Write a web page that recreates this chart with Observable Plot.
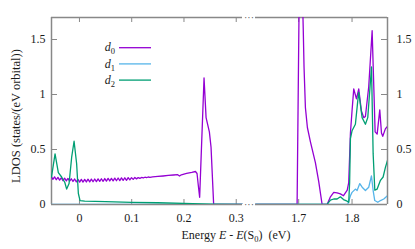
<!DOCTYPE html>
<html><head><meta charset="utf-8">
<script src="https://cdn.jsdelivr.net/npm/d3@7"></script>
<script src="https://cdn.jsdelivr.net/npm/@observablehq/plot@0.6"></script>
<style>html,body{margin:0;padding:0;background:#fff;} svg{display:block} svg text, svg tspan{font-family:"Liberation Serif", "Times New Roman", serif !important;}</style>
</head><body><div id="chart"></div>
<script>
const series = ["d0", "d1", "d2"];
const seriesColors = ["#9400d3", "#56b4e9", "#009e73"];
const xTicks = [0, 0.1, 0.2, 0.3, 1.7, 1.8];
const yTicks = [0, 0.5, 1, 1.5];
const panelLeft = [-0.0535, 0.312];
const panelRight = [1.619, 1.8665];
const yMax = 1.7;

const d0Left = [
  [-0.0540,0.255],[-0.0508,0.229],[-0.0476,0.251],[-0.0444,0.225],[-0.0412,0.247],[-0.0380,0.221],
  [-0.0348,0.243],[-0.0316,0.217],[-0.0284,0.239],[-0.0252,0.214],[-0.0220,0.237],[-0.0188,0.212],
  [-0.0156,0.234],[-0.0124,0.209],[-0.0092,0.232],[-0.0060,0.206],[-0.0028,0.228],[0.0004,0.203],
  [0.0036,0.228],[0.0068,0.204],[0.0100,0.229],[0.0132,0.205],[0.0164,0.230],[0.0196,0.206],
  [0.0228,0.231],[0.0260,0.207],[0.0292,0.232],[0.0324,0.208],[0.0356,0.233],[0.0388,0.210],
  [0.0420,0.234],[0.0452,0.211],[0.0484,0.236],[0.0516,0.212],[0.0548,0.237],[0.0580,0.214],
  [0.0612,0.238],[0.0644,0.215],[0.0676,0.240],[0.0708,0.216],[0.0740,0.241],[0.0772,0.217],
  [0.0804,0.242],[0.0836,0.219],[0.0868,0.243],[0.0900,0.220],[0.0932,0.244],[0.0964,0.224],
  [0.0996,0.244],[0.1028,0.228],[0.1060,0.245],[0.1092,0.233],[0.1124,0.245],[0.1156,0.237],
  [0.1188,0.246],[0.1220,0.241],[0.1252,0.248],[0.1284,0.244],[0.1316,0.250],[0.1348,0.247],
  [0.14,0.251],[0.15,0.255],[0.16,0.259],[0.17,0.264],[0.18,0.268],[0.188,0.271],[0.1915,0.259],
  [0.195,0.270],[0.205,0.282],[0.215,0.292],[0.222,0.300],[0.225,0.282],[0.2275,0.17],[0.230,0.066],
  [0.2384,1.15],[0.2423,0.79],[0.2486,0.66],[0.2518,0.52],[0.2568,0],[0.312,0]
];
const d0Right = [
  [1.619,0],[1.697,0],[1.7005,1.7],[1.7045,2.4],[1.7085,1.6],[1.7100,1.25],[1.7126,0.88],
  [1.7163,0.70],[1.722,0.57],[1.7313,0.38],[1.7375,0.21],[1.7439,0],[1.7533,0],[1.7595,0.07],
  [1.7657,0.11],[1.772,0.105],[1.7782,0.097],[1.784,0.08],[1.791,0.13],[1.7938,0.2],[1.797,0.65],
  [1.8,0.85],[1.8032,1.05],[1.8083,0.96],[1.8126,1.05],[1.8176,0.85],[1.822,0.79],[1.8251,0.80],
  [1.8313,1.07],[1.8377,1.58],[1.8433,0.66],[1.8471,0.64],[1.852,0.86],[1.8552,0.65],[1.8576,0.62],
  [1.8627,0.69],[1.8665,0.71]
];
const d1Left = [[-0.0535,0],[0.312,0]];
const d1Right = [
  [1.619,0],[1.792,0],[1.797,0.08],[1.8,0.11],[1.8063,0.14],[1.8095,0.127],[1.8145,0.19],
  [1.819,0.157],[1.8251,0.127],[1.8313,0.157],[1.8364,0.26],[1.8396,0.127],[1.8426,0.036],
  [1.8483,0.02],[1.8533,0.036],[1.8595,0.05],[1.8665,0.08]
];
const d2Left = [
  [-0.0535,0.25],[-0.0467,0.46],[-0.0404,0.29],[-0.0341,0.25],[-0.028,0.20],[-0.0245,0.14],
  [-0.0199,0.19],[-0.0149,0.43],[-0.0103,0.575],[-0.0054,0.37],[-0.0021,0.10],[0.0011,0.036],
  [0.01,0.03],[0.05,0.026],[0.1,0.02],[0.15,0.016],[0.2,0.01],[0.25,0.003],[0.312,0]
];
const d2Right = [
  [1.619,0],[1.753,0],[1.7595,0.04],[1.7657,0.05],[1.772,0.05],[1.7782,0.07],[1.784,0.045],
  [1.7908,0.03],[1.7938,0.02],[1.7955,0.2],[1.797,0.6],[1.8,0.67],[1.8063,0.73],[1.8107,0.94],
  [1.8126,1.02],[1.8189,0.79],[1.8251,0.73],[1.8295,0.79],[1.8365,1.25],[1.8396,0.46],
  [1.8427,0.13],[1.8471,0.14],[1.8533,0.22],[1.8583,0.25],[1.8627,0.34],[1.8665,0.40]
];

const sources = [
  ["d0", "L", d0Left], ["d0", "R", d0Right],
  ["d1", "L", d1Left], ["d1", "R", d1Right],
  ["d2", "L", d2Left], ["d2", "R", d2Right]
];
const rows = [];
for (const [s, p, pts] of sources) for (const [E, v] of pts) rows.push({E, v, s, key: s + p});

const W = 415, H = 249, mL = 51, mR = 28, mT = 17, mB = 45;
const frameColor = "#888";
const gapMid = (panelLeft[1] + panelRight[0]) / 2;
const FONT = "'Liberation Serif', 'Times New Roman', serif";

const plot = Plot.plot({
  width: W, height: H,
  marginLeft: mL, marginRight: mR, marginTop: mT, marginBottom: mB,
  style: {fontFamily: FONT, fontSize: "12px", color: "#1a1a1a", background: "#fff"},
  x: {type: "linear", domain: [panelLeft[0], panelLeft[1], panelRight[0], panelRight[1]], range: [mL, 242, 255, W - mR]},
  y: {domain: [0, yMax], range: [H - mB, mT]},
  color: {domain: series, range: seriesColors},
  marks: [
    Plot.ruleX([panelLeft[0], panelRight[1]], {stroke: frameColor, strokeWidth: 1.5}),
    Plot.ruleY([0, yMax], {x1: panelLeft[0], x2: panelLeft[1], stroke: frameColor, strokeWidth: 1.5}),
    Plot.ruleY([0, yMax], {x1: panelRight[0], x2: panelRight[1], stroke: frameColor, strokeWidth: 1.5}),
    Plot.tickX(xTicks, {x: d => d, insetTop: H - mT - mB - 5, stroke: frameColor}),
    Plot.tickX(xTicks, {x: d => d, insetBottom: H - mT - mB - 5, stroke: frameColor}),
    Plot.tickY(yTicks, {y: d => d, insetRight: W - mL - mR - 6, stroke: frameColor}),
    Plot.tickY(yTicks, {y: d => d, insetLeft: W - mL - mR - 6, stroke: frameColor}),
    Plot.text([0, yMax], {x: () => gapMid, y: d => d, text: () => "···", fontSize: 10, fill: "#555"}),
    Plot.axisX({ticks: xTicks, tickSize: 0, tickPadding: 9, tickFormat: d => String(d), label: null, fontSize: 12}),
    Plot.axisY({anchor: "left", ticks: yTicks, tickSize: 0, tickPadding: 6, tickFormat: d => String(d), label: null, fontSize: 12}),
    Plot.axisY({anchor: "right", ticks: yTicks, tickSize: 0, tickPadding: 9, tickFormat: d => String(d), label: null, fontSize: 12}),
    Plot.line(rows, {x: "E", y: "v", z: "key", stroke: "s", strokeWidth: 1.3, clip: true})
  ]
});

const svg = d3.select(plot);
svg.attr("font-family", FONT);
const ink = "#1a1a1a";
// y axis label
svg.append("text")
  .attr("transform", "translate(16,116) rotate(-90)")
  .attr("text-anchor", "middle").attr("dy", "0.35em")
  .attr("fill", ink).attr("font-size", 12.5)
  .text("LDOS (states/(eV orbital))");
// x axis label
const xl = svg.append("text").attr("x", 236).attr("y", 239)
  .attr("text-anchor", "middle").attr("fill", ink).attr("font-size", 12);
xl.append("tspan").text("Energy ");
xl.append("tspan").attr("font-style", "italic").text("E");
xl.append("tspan").text(" - ");
xl.append("tspan").attr("font-style", "italic").text("E");
xl.append("tspan").text("(S");
xl.append("tspan").attr("font-size", 8.5).attr("dy", 3).text("0");
xl.append("tspan").attr("dy", -3).text(")\u00a0\u00a0(eV)");
// legend
series.forEach((s, i) => {
  const y = 47.7 + 16.2 * i;
  svg.append("line").attr("x1", 119).attr("x2", 151).attr("y1", y).attr("y2", y)
    .attr("stroke", seriesColors[i]).attr("stroke-width", 1.3);
  const t = svg.append("text").attr("x", 115).attr("y", y).attr("dy", "0.3em")
    .attr("text-anchor", "end").attr("fill", ink).attr("font-size", 12);
  t.append("tspan").attr("font-style", "italic").text(s[0]);
  t.append("tspan").attr("font-size", 8.5).attr("dy", 3).text(s.slice(1));
});
svg.selectAll("text").attr("font-family", FONT);

document.getElementById("chart").appendChild(plot);
</script>
</body></html>
